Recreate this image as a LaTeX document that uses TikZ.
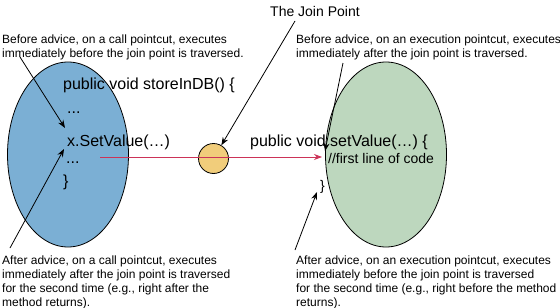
\documentclass[tikz,border=0pt]{standalone}
\usepackage{fontspec}
\setmainfont{Liberation Sans}
\usepackage{tikz}
\usetikzlibrary{arrows.meta, shapes.geometric}
\definecolor{callerblue}{HTML}{7BAFD4}
\definecolor{calleegreen}{HTML}{BDD7BE}
\definecolor{joinorange}{HTML}{F1CD7B}
\definecolor{flowred}{HTML}{CC3358}
\tikzset{
  method/.style={ellipse, draw=black, line width=0.8pt, minimum width=121pt,
    minimum height=185pt, inner sep=0pt},
  joinpt/.style={circle, draw=black, fill=joinorange, line width=0.8pt,
    minimum size=30pt, inner sep=0pt},
  note/.style={font=\fontsize{12}{14}\selectfont, align=left,
    anchor=base west, inner sep=0pt},
  codeline/.style={font=\fontsize{16}{19}\selectfont, anchor=base west, inner sep=0pt},
  codecomment/.style={codeline, font=\fontsize{14}{17}\selectfont},
  pointer/.style={-{Stealth[length=8pt, width=6pt]}, line width=0.8pt},
  flow/.style={-{Stealth[length=8pt, width=6pt]}, line width=0.9pt, color=flowred}
}
\begin{document}
\begin{tikzpicture}[x=1pt, y=-1pt]
    \useasboundingbox (0, 0) rectangle (560, 308);

    % Methodes
    \node[method, fill=callerblue]  (caller) at (68, 154.5) {};
    \node[method, fill=calleegreen] (callee) at (386, 154.5) {};

    % Code
    \node[codeline] (store)    at (63, 89)   {public void storeInDB() \{};
    \node[codeline] (dotsa)    at (67, 113)  {...};
    \node[codeline] (setcall)  at (67, 146)  {x.SetValue(…)};
    \node[codeline] (dotsb)    at (66, 163)  {...};
    \node[codeline] (closea)   at (63, 186)  {\}};
    \node[codeline] (setdecl)  at (250, 146) {public void setValue(…) \{};
    \node[codecomment] (first) at (328, 163) {//first line of code};
    \node[codecomment] (closeb) at (320, 190) {\}};

    % Notes (ancrees sur la derniere ligne)
    \node[note] (callbefore) at (2, 57)
      {Before advice, on a call pointcut, executes\\immediately before the join point is traversed.};
    \node[note] (execbefore) at (296, 57)
      {Before advice, on an execution pointcut, executes\\immediately after the join point is traversed.};
    \node[note, font=\fontsize{14}{17}\selectfont] (jplabel) at (270, 16.5) {The Join Point};
    \node[note] (callafter) at (2, 306)
      {After advice, on a call pointcut, executes\\immediately after the join point is traversed\\for the second time (e.g., right after the\\method returns).};
    \node[note] (execafter) at (296, 306)
      {After advice, on an execution pointcut, executes\\immediately before the join point is traversed\\for the second time (e.g., right before the method\\returns).};

    % Point de jonction
    \node[joinpt] (jp) at (213.5, 158.5) {};
    \coordinate (callout) at (100, 157);
    \coordinate (execin)  at (322, 157);
    \draw[flow] (callout) -- (execin);

    % Fleches
    \coordinate (jpfrom) at (295, 21);
    \coordinate (cbfrom) at (20, 57);
    \coordinate (cbto)   at (65, 128);
    \coordinate (cafrom) at (10, 248);
    \coordinate (cato)   at (64, 149);
    \coordinate (ebfrom) at (343, 63);
    \coordinate (ebto)   at (325, 151);
    \coordinate (eafrom) at (295, 250);
    \coordinate (eato)   at (317, 192);
    \draw[pointer] (jpfrom) -- (jp);
    \draw[pointer] (cbfrom) -- (cbto);
    \draw[pointer] (cafrom) -- (cato);
    \draw[pointer] (ebfrom) -- (ebto);
    \draw[pointer] (eafrom) -- (eato);
\end{tikzpicture}
\end{document}
